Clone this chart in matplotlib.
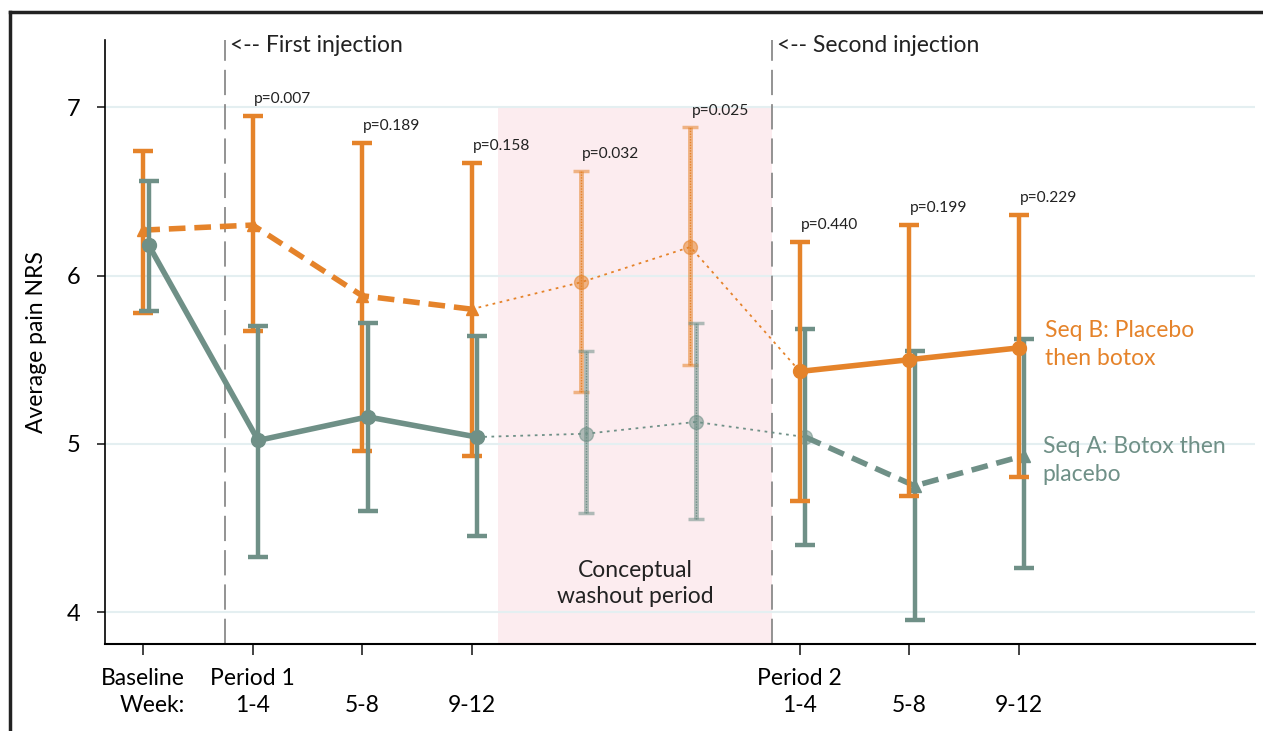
import numpy as np
import matplotlib
matplotlib.use('Agg')
import matplotlib.pyplot as plt
from matplotlib.lines import Line2D

plt.rcParams['font.family'] = ['Lato', 'DejaVu Sans']

# posiciones 0..8: baseline, P1 (1-4, 5-8, 9-12), washout x2, P2 (1-4, 5-8, 9-12)
pos = np.arange(9)

# Seq B: placebo then botox (naranja)
b_mean = [6.27, 6.30, 5.88, 5.80, 5.96, 6.17, 5.43, 5.50, 5.57]
b_lo = [5.78, 5.67, 4.96, 4.93, 5.31, 5.47, 4.66, 4.69, 4.80]
b_hi = [6.74, 6.95, 6.79, 6.67, 6.62, 6.88, 6.20, 6.30, 6.36]

# Seq A: botox then placebo (verde)
a_mean = [6.18, 5.02, 5.16, 5.04, 5.06, 5.13, 5.04, 4.75, 4.93]
a_lo = [5.79, 4.33, 4.60, 4.45, 4.59, 4.55, 4.40, 3.95, 4.26]
a_hi = [6.56, 5.70, 5.72, 5.64, 5.55, 5.72, 5.68, 5.55, 5.62]

pvals = ['p=0.007', 'p=0.189', 'p=0.158', 'p=0.032', 'p=0.025', 'p=0.440', 'p=0.199', 'p=0.229']

tick_pos = [0, 1, 2, 3, 6, 7, 8]
tick_labels = ['Baseline\nWeek:', 'Period 1\n1-4', '\n5-8', '\n9-12', 'Period 2\n1-4', '\n5-8', '\n9-12']

naranja = '#e5832a'
verde = '#6f9087'

fig = plt.figure(figsize=(12.63, 7.31), dpi=100)
ax = fig.add_axes([105/1263, 87/731, 1150/1263, 604/731])

b_mean = np.array(b_mean); b_lo = np.array(b_lo); b_hi = np.array(b_hi)
a_mean = np.array(a_mean); a_lo = np.array(a_lo); a_hi = np.array(a_hi)
xb = pos.astype(float)
xa = pos + 0.05

# zona de lavado
ax.axvspan(3.24, 5.75, ymin=0, ymax=(7 - 3.81) / (7.40 - 3.81), color='#fcecef', zorder=0, lw=0)
ax.text(4.5, 4.17, 'Conceptual\nwashout period', ha='center', va='center', fontsize=16.5,
        color='#222222', linespacing=1.3)

# lineas de inyeccion
for xv, lab in [(0.75, '<-- First injection'), (5.75, '<-- Second injection')]:
    ax.axvline(xv, color='#8a8a8a', lw=1.3, dashes=(14, 5), zorder=1)
    ax.text(xv + 0.04, 7.37, lab, ha='left', va='center', fontsize=16.5, color='#222222')

def barras(x, lo, hi, mean, color, idx, z, estilo='solid'):
    for i in idx:
        if estilo == 'solid':
            ax.errorbar(x[i], mean[i], yerr=[[mean[i] - lo[i]], [hi[i] - mean[i]]], fmt='none',
                        ecolor=color, elinewidth=3.2, capsize=7, capthick=3.2, zorder=z)
        else:
            ax.errorbar(x[i], mean[i], yerr=[[mean[i] - lo[i]], [hi[i] - mean[i]]], fmt='none',
                        ecolor=color, elinewidth=3.5, capsize=6, capthick=2.5, alpha=0.55, zorder=z)
            ax.vlines(x[i], lo[i], hi[i], color=color, lw=1.0, linestyles=(0, (1, 1)), zorder=z)

# periodo 1: verde delante
barras(xb, b_lo, b_hi, b_mean, naranja, [0, 1, 2, 3], 3)
barras(xa, a_lo, a_hi, a_mean, verde, [0, 1, 2, 3], 5)
# lavado
barras(xb, b_lo, b_hi, b_mean, naranja, [4, 5], 3, 'hatch')
barras(xa, a_lo, a_hi, a_mean, verde, [4, 5], 3, 'hatch')
# periodo 2: naranja delante
barras(xa, a_lo, a_hi, a_mean, verde, [6, 7, 8], 3)
barras(xb, b_lo, b_hi, b_mean, naranja, [6, 7, 8], 5)

# lineas de medias
ax.plot(xb[:4], b_mean[:4], color=naranja, lw=4, dashes=(3, 1.6), marker='^', ms=9, zorder=4)
ax.plot(xb[3:7], b_mean[3:7], color=naranja, lw=1.3, linestyle=(0, (1.5, 2.5)), zorder=4)
ax.plot(xb[4:6], b_mean[4:6], 'o', color=naranja, ms=10, alpha=0.55, mec=naranja, zorder=4)
ax.plot(xb[6:], b_mean[6:], color=naranja, lw=4, marker='o', ms=10, zorder=6)

ax.plot(xa[:4], a_mean[:4], color=verde, lw=4, marker='o', ms=10, zorder=6)
ax.plot(xa[3:7], a_mean[3:7], color=verde, lw=1.3, linestyle=(0, (1.5, 2.5)), zorder=4)
ax.plot(xa[4:7], a_mean[4:7], 'o', color=verde, ms=10, alpha=0.55, mec=verde, zorder=4)
ax.plot(xa[6:], a_mean[6:], color=verde, lw=4, dashes=(3, 1.6), zorder=4)
ax.plot(xa[7:], a_mean[7:], '^', color=verde, ms=9, zorder=4)

# p-valores
for i, p in enumerate(pvals):
    ax.text(xb[i + 1] + 0.01, b_hi[i + 1] + 0.10, p, ha='left', va='center', fontsize=11.2, color='#222222')

# etiquetas de serie
ax.text(8.24, 5.59, 'Seq B: Placebo\nthen botox', color=naranja, fontsize=16.5, ha='left', va='center',
        linespacing=1.4)
ax.text(8.22, 4.90, 'Seq A: Botox then\nplacebo', color=verde, fontsize=16.5, ha='left', va='center',
        linespacing=1.4)

ax.set_xlim(-0.35, 10.16)
ax.set_ylim(3.81, 7.40)
ax.set_yticks([4, 5, 6, 7])
ax.set_yticklabels(['4', '5', '6', '7'], fontsize=17)
ax.set_xticks(tick_pos)
ax.set_xticklabels(tick_labels, fontsize=16.5, linespacing=1.35)
ax.get_xticklabels()[0].set_multialignment('right')
ax.tick_params(axis='x', length=8, width=1.2, pad=9, color='#222222')
ax.tick_params(axis='y', length=6, width=1.2, pad=12, color='#222222')
ax.set_ylabel('Average pain NRS', fontsize=16.5, labelpad=14)
ax.grid(axis='y', color='#e4eff1', lw=1.5, zorder=0)
ax.set_axisbelow(True)
for s in ['top', 'right']:
    ax.spines[s].set_visible(False)
ax.spines['left'].set_linewidth(1.2)
ax.spines['bottom'].set_linewidth(1.5)

# marco de la figura
fig.add_artist(Line2D([10/1263, 10/1263], [0, 1 - 12/731], transform=fig.transFigure, color='#222222', lw=2.5))
fig.add_artist(Line2D([10/1263, 1], [1 - 12/731, 1 - 12/731], transform=fig.transFigure, color='#222222', lw=2.5))

fig.savefig('out.png', dpi=100)
